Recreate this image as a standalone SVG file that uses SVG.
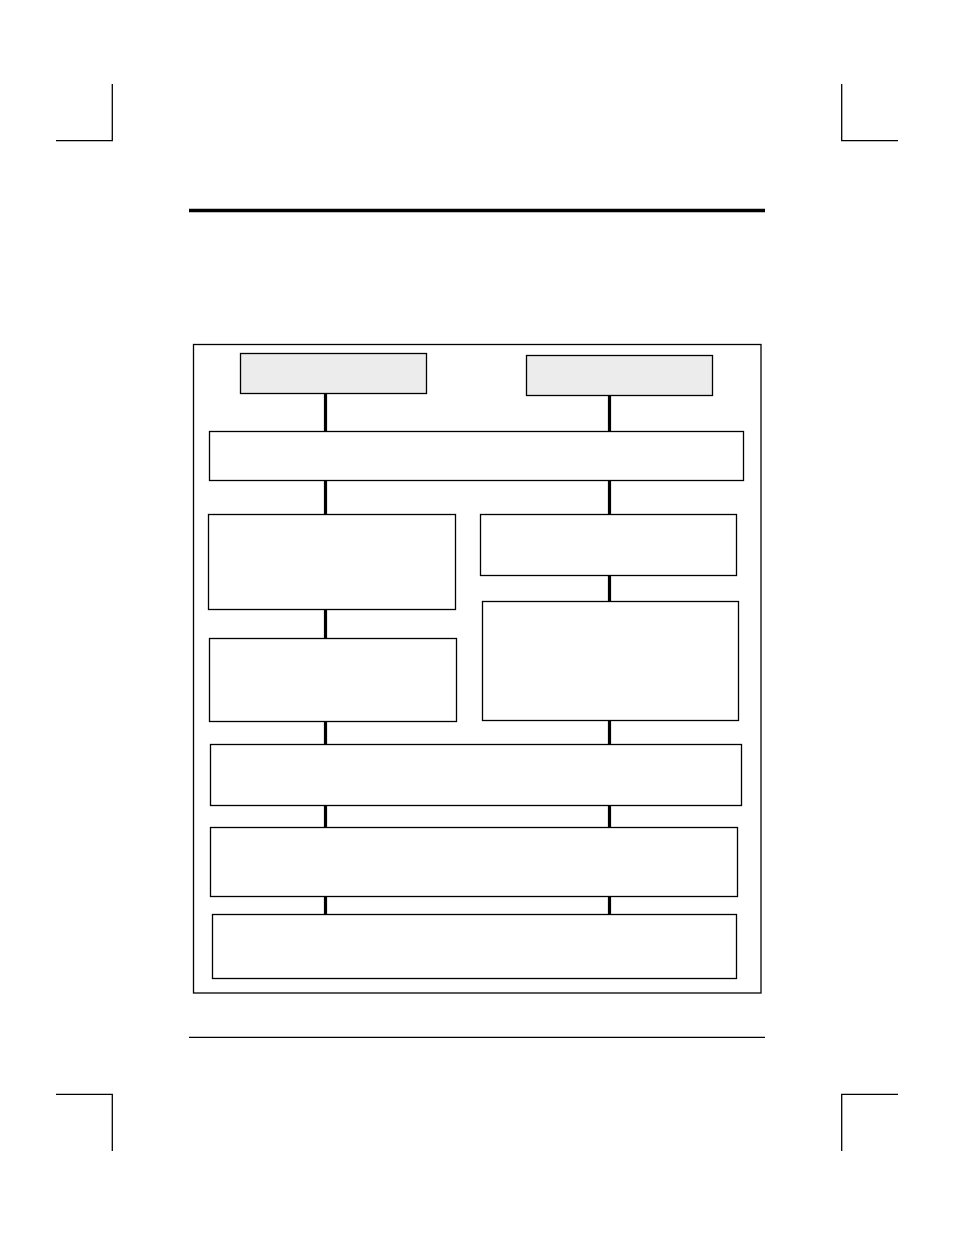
<svg xmlns="http://www.w3.org/2000/svg" width="954" height="1235" viewBox="0 0 954 1235">
<style>
.box{fill:#ffffff;stroke:#000;stroke-width:1.3}
.gray{fill:#ececec;stroke:#000;stroke-width:1.3}
.conn{stroke:#000;stroke-width:3.2;fill:none}
.mark{stroke:#000;stroke-width:1.3;fill:none}
</style>
<rect width="954" height="1235" fill="#ffffff"/>
<g id="page-marks">
<path class="mark" d="M112.3,84 V140.7 H56"/>
<path class="mark" d="M841.7,84 V140.7 H898"/>
<path class="mark" d="M56,1094.3 H112.3 V1151"/>
<path class="mark" d="M898,1094.3 H841.7 V1151"/>
<line x1="189" y1="210.5" x2="765" y2="210.5" stroke="#000" stroke-width="3.3"/>
<line x1="189" y1="1037.3" x2="765" y2="1037.3" stroke="#000" stroke-width="1.3"/>
</g>
<g id="frame"><rect class="box" x="193.5" y="344.5" width="567.5" height="648.5"/></g>
<g id="connectors">
<line class="conn" x1="325.5" y1="393" x2="325.5" y2="431"/>
<line class="conn" x1="609.5" y1="395" x2="609.5" y2="431"/>
<line class="conn" x1="325.5" y1="480" x2="325.5" y2="514"/>
<line class="conn" x1="609.5" y1="480" x2="609.5" y2="514"/>
<line class="conn" x1="325.5" y1="609" x2="325.5" y2="638"/>
<line class="conn" x1="609.5" y1="575" x2="609.5" y2="601"/>
<line class="conn" x1="325.5" y1="721" x2="325.5" y2="744"/>
<line class="conn" x1="609.5" y1="720" x2="609.5" y2="744"/>
<line class="conn" x1="325.5" y1="805" x2="325.5" y2="827"/>
<line class="conn" x1="609.5" y1="805" x2="609.5" y2="827"/>
<line class="conn" x1="325.5" y1="896" x2="325.5" y2="914"/>
<line class="conn" x1="609.5" y1="896" x2="609.5" y2="914"/>
</g>
<g id="node-top-left"><rect class="gray" x="240.5" y="353.5" width="186" height="40"/></g>
<g id="node-top-right"><rect class="gray" x="526.5" y="355.5" width="186" height="40"/></g>
<g id="node-wide-1"><rect class="box" x="209.5" y="431.5" width="534" height="49"/></g>
<g id="node-left-1"><rect class="box" x="208.5" y="514.5" width="247" height="95"/></g>
<g id="node-left-2"><rect class="box" x="209.5" y="638.5" width="247" height="83"/></g>
<g id="node-right-1"><rect class="box" x="480.5" y="514.5" width="256" height="61"/></g>
<g id="node-right-2"><rect class="box" x="482.5" y="601.5" width="256" height="119"/></g>
<g id="node-wide-2"><rect class="box" x="210.5" y="744.5" width="531" height="61"/></g>
<g id="node-wide-3"><rect class="box" x="210.5" y="827.5" width="527" height="69"/></g>
<g id="node-wide-4"><rect class="box" x="212.5" y="914.5" width="524" height="64"/></g>
</svg>
